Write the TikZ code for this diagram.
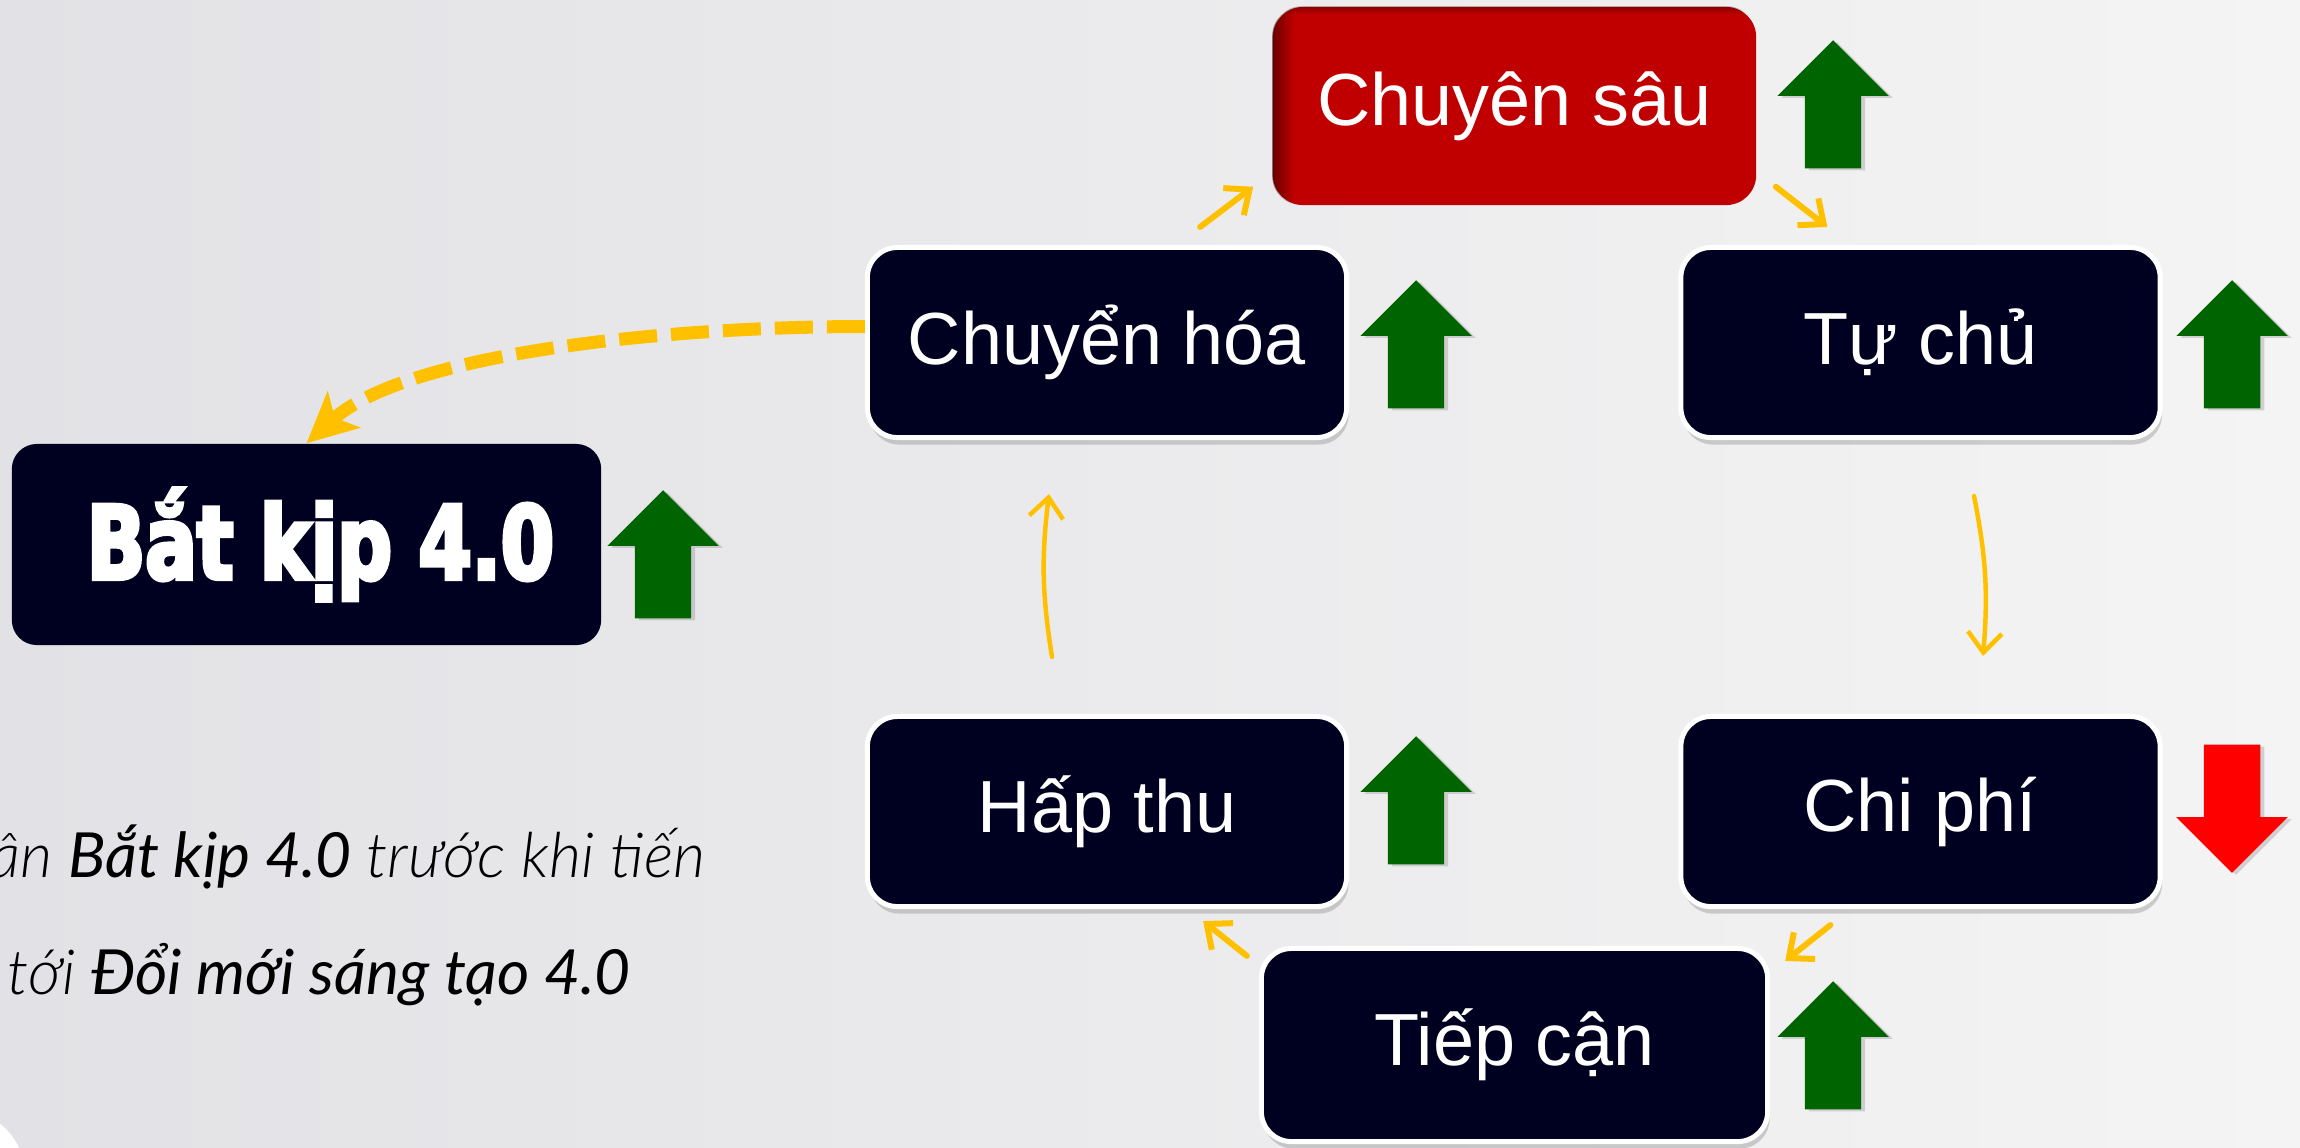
\documentclass[tikz,border=0pt]{standalone}
\usepackage{fontspec}
\setmainfont{Liberation Sans}
\newfontfamily\batfont{DejaVu Sans}[UprightFont=* Bold, FakeStretch=0.75, FakeBold=4]
\newfontfamily\notefont{Lato}
\IfFontExistsTF{Lato Light}{\newfontfamily\notelight{Lato Light}}{\newfontfamily\notelight{Lato}}
\usetikzlibrary{calc,shapes.arrows,shadows,arrows.meta,fadings}

\definecolor{nenxanh}{HTML}{000020}
\definecolor{dothem}{HTML}{C00000}
\definecolor{xanhla}{HTML}{006400}
\definecolor{vang}{HTML}{FFC000}
\definecolor{nentrai}{HTML}{E2E2E6}
\definecolor{nenphai}{HTML}{F4F4F4}

\tikzset{
  khoi/.style={rectangle, rounded corners=0.3cm, fill=nenxanh, draw=none, text=white,
    minimum width=4.79cm, minimum height=1.9cm, font=\fontsize{21}{25}\selectfont},
  hop/.style={khoi, draw=white, line width=0.05cm,
    drop shadow={shadow xshift=0.02cm, shadow yshift=-0.07cm, opacity=0.35}},
  len/.style={single arrow, shape border rotate=90, fill=xanhla, draw=none, inner sep=0.275cm,
    minimum height=1.28cm, single arrow head extend=0.275cm, anchor=tail,
    drop shadow={shadow xshift=0.04cm, shadow yshift=-0.02cm, opacity=0.3}},
  xuong/.style={len, shape border rotate=270, fill=red},
  muiten/.style={vang, line width=0.06cm, line cap=round,
    -{Straight Barb[length=0.2cm,width=0.34cm]}},
  ghichu/.style={inner sep=0pt, font=\fontsize{17.7}{20}\selectfont},
}

\begin{document}
\begin{tikzpicture}[x=0.01cm,y=-0.01cm]
    %nen
    \useasboundingbox (0,0) rectangle (2300,1147);
    \clip (0,0) rectangle (2300,1147);
    \shade[left color=nentrai, right color=nenphai] (0,0) rectangle (2300,1147);
    \fill[white] (-40,1175) circle [radius=65];

    %Chuyen sau
    \node[khoi, fill=dothem, minimum width=4.83cm, minimum height=1.98cm] (cs) at (1514.5,106) {Chuyên sâu};
    \begin{scope}
        \clip[rounded corners=0.3cm] (cs.south west) rectangle (cs.north east);
        \fill[black, opacity=0.45, path fading=east] (cs.south west) rectangle ($(cs.north west)+(22,0)$);
        \fill[black, opacity=0.3, path fading=south] (cs.north west) rectangle ($(cs.north east)+(0,8)$);
    \end{scope}
    \node[len] (mcs) at (1833,169) {};

    %vong
    \node[hop] (ch) at (1107,342.5) {Chuyển hóa};
    \node[len] (mch) at (1416,409) {};
    \node[hop] (tc) at (1920.5,342.5) {Tự chủ};
    \node[len] (mtc) at (2232,409) {};
    \node[hop] (ht) at (1107,811.5) {Hấp thu};
    \node[len] (mht) at (1416,865) {};
    \node[hop] (cp) at (1920.5,811.5) {Chi phí};
    \node[xuong] (mcp) at (2232,744) {};
    \node[hop, minimum width=5.06cm, minimum height=1.93cm] (tcn) at (1514.5,1045) {Tiếp cận};
    \node[len] (mtcn) at (1833,1110) {};

    %Bat kip
    \node[khoi, rounded corners=0.25cm, minimum width=5.89cm, minimum height=2.01cm,
        font=\batfont\fontsize{29}{32}\selectfont] (bk) at (306.5,544.5) {\hspace{0.28cm}Bắt kịp 4.0};
    \node[len] (mbk) at (663,619) {};

    %mui ten vang
    \draw[muiten] ($(ch.north east)+(-149,-18)$) -- ($(cs.south west)+(-19,-19)$);
    \draw[muiten] ($(cs.south east)+(19,-19)$) -- ($(tc.north west)+(149,-18)$);
    \draw[muiten, line width=0.045cm] ($(tc.south)+(53.5,56)$) to[bend left=8] ($(cp.north)+(62.5,-58)$);
    \draw[muiten] ($(cp.south west)+(152,16)$) -- ($(tcn.north east)+(15,15)$);
    \draw[muiten] ($(tcn.north west)+(-12,10)$) -- ($(ht.south east)+(-146,12)$);
    \draw[muiten, line width=0.045cm] ($(ht.north)+(-55,-57)$) to[bend left=8] ($(ch.south)+(-58,54)$);
    \draw[vang, line width=0.13cm, dash pattern=on 0.38cm off 0.14cm,
        -{Stealth[length=0.5cm,width=0.48cm,inset=0.12cm]}] ($(ch.west)+(0,-16)$) .. controls +(-200,0) and +(100,-90) .. (bk.north);

    %ghi chu
    \node[ghichu, anchor=base east] (dong1) at (706,877)
        {\notelight\itshape ân \notefont Bắt kịp 4.0 \notelight trước khi tiến};
    \node[ghichu, anchor=base west] (dong2) at (7,994)
        {\notelight\itshape tới \notefont Đổi mới sáng tạo 4.0};
\end{tikzpicture}
\end{document}
